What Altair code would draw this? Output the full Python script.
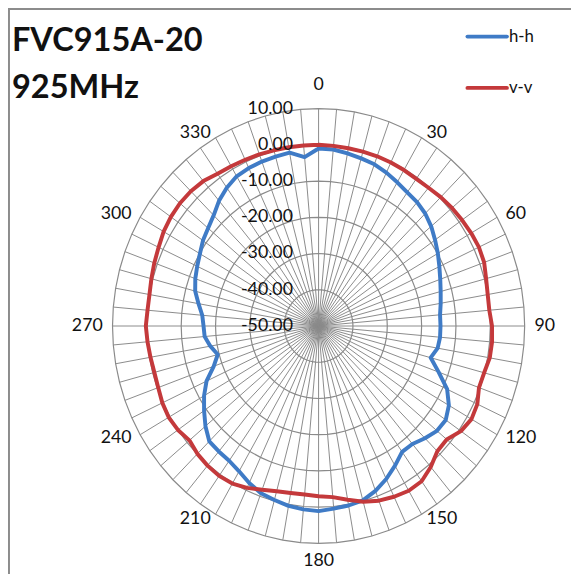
import math
import altair as alt
import pandas as pd

# ---------------- data ----------------
ANGLES = list(range(0, 360, 5))
HH = [-1.0, -1.1, -1.6, -2.1, -2.5, -3.3, -4.2, -5.0, -5.4, -6.1, -7.2, -8.6,
      -9.9, -11.2, -12.3, -13.2, -13.9, -14.5, -14.5, -14.5, -14.8, -16.2, -12.8, -8.7,
      -6.2, -4.8, -5.0, -6.2, -7.5, -7.6, -5.5, -3.4, -1.6, -0.2, 0.3, 0.6,
      1.1, 0.8, 0.4, -0.3, -0.9, -2.2, -3.7, -4.6, -4.8, -5.0, -7.0, -9.3,
      -11.5, -14.0, -17.5, -19.6, -18.0, -16.7, -16.5, -16.0, -14.5, -12.8, -11.8, -11.0,
      -10.1, -8.9, -8.0, -6.8, -4.9, -3.4, -2.3, -1.9, -1.7, -1.6, -1.4, -3.2]
VV = [0.0, -0.1, -0.2, -0.2, -0.15, -0.2, -0.3, -0.4, -0.2, 0.3, 0.7, 1.0,
      1.3, 1.5, 1.3, 0.5, 0.0, -0.1, 0.5, 0.7, 0.6, -0.1, -0.3, 1.0,
      1.4, 0.6, -1.3, -1.1, 0.8, 2.3, 2.5, 2.0, 1.3, 0.2, -1.3, -2.6,
      -3.0, -3.3, -3.2, -2.8, -1.9, -0.7, 0.2, 0.5, 0.3, -0.1, -0.9, 0.0,
      0.4, 0.2, -0.3, -0.5, -0.3, 0.0, 0.3, 0.0, 0.0, 0.4, 0.9, 1.4,
      2.1, 2.5, 2.7, 2.6, 2.2, 1.3, 0.9, 0.6, 0.4, 0.2, 0.1, 0.0]
SERIES = ["h-h", "v-v"]
COLORS = ["#3F7BC6", "#C4393B"]
RING_VALUES = [10, 0, -10, -20, -30, -40, -50]
RING_LABELS = ["10.00", "0.00", "-10.00", "-20.00", "-30.00", "-40.00", "-50.00"]
ANGLE_TICKS = [0, 30, 60, 90, 120, 150, 180, 210, 240, 270, 300, 330]
ANGLE_TICK_LABELS = ["0", "30", "60", "90", "120", "150", "180", "210", "240", "270", "300", "330"]
TITLE_LINES = ["FVC915A-20", "925MHz"]
R_MIN, R_MAX = -50, 10

# ---------------- layout ----------------
W, H = 418, 441
RX, RY = W / 2, H / 2
GAP_X, GAP_Y = 10, 6                 # label gaps in px
GAP_TOP, GAP_BOTTOM = 24, 18
CHAR_W = 10.4                        # approx. digit width at 18px

def norm(v):
    return (v - R_MIN) / (R_MAX - R_MIN)

def polar(r, deg):
    a = math.radians(deg)
    return r * math.sin(a), r * math.cos(a)

rows = []
for s, vals in zip(SERIES, [HH, VV]):
    for i, (a, v) in enumerate(list(zip(ANGLES, vals)) + [(ANGLES[0], vals[0])]):
        x, y = polar(norm(v), a)
        rows.append({"series": s, "idx": i, "x": x, "y": y})
series_df = pd.DataFrame(rows)

spokes = []
for a in ANGLES:
    x, y = polar(1.0, a)
    spokes.append({"x": 0.0, "y": 0.0, "x2": x, "y2": y})
spokes_df = pd.DataFrame(spokes)

rings = []
for v in RING_VALUES:
    r = norm(v)
    if r <= 0:
        continue
    for i, a in enumerate(ANGLES + [ANGLES[0]]):
        x, y = polar(r, a)
        rings.append({"ring": v, "idx": i, "x": x, "y": y})
rings_df = pd.DataFrame(rings)

rlab_df = pd.DataFrame({"x": [0.0] * len(RING_VALUES),
                        "y": [norm(v) for v in RING_VALUES],
                        "label": RING_LABELS})

alab = []
for a, t in zip(ANGLE_TICKS, ANGLE_TICK_LABELS):
    s, c = polar(1.0, a)
    if abs(s) > 0.01:
        sg = 1 if s > 0 else -1
        x = s * (1 + GAP_X / RX) + sg * (len(t) * CHAR_W / 2) / RX
        y = c * (1 + GAP_Y / RY)
    else:
        x = 0.0
        y = (1 + GAP_TOP / RY) if c > 0 else -(1 + GAP_BOTTOM / RY)
    alab.append({"x": x, "y": y, "label": t})
alab_df = pd.DataFrame(alab)

XS = alt.Scale(domain=[-1, 1], nice=False, zero=False)
YS = alt.Scale(domain=[-1, 1], nice=False, zero=False)
GRID = "#8A8A8A"
FONT = "Lato"
TXT = "#111111"

def X(f="x"):
    return alt.X(f + ":Q", scale=XS, axis=None)

def Y(f="y"):
    return alt.Y(f + ":Q", scale=YS, axis=None)

spoke_layer = alt.Chart(spokes_df).mark_rule(color=GRID, strokeWidth=1).encode(
    x=X(), y=Y(), x2="x2:Q", y2="y2:Q")

ring_layer = alt.Chart(rings_df).mark_line(color=GRID, strokeWidth=1.2).encode(
    x=X(), y=Y(), detail="ring:N", order="idx:Q")

line_layers = []
for s, c in zip(SERIES, COLORS):
    line_layers.append(
        alt.Chart(series_df[series_df.series == s]).mark_line(
            color=c, strokeWidth=4, strokeJoin="round", strokeCap="round").encode(
            x=X(), y=Y(), order="idx:Q"))

rlab_layer = alt.Chart(rlab_df).mark_text(
    align="right", baseline="middle", dx=-26, fontSize=18, font=FONT, color=TXT).encode(
    x=X(), y=Y(), text="label:N")

alab_layer = alt.Chart(alab_df).mark_text(
    align="center", baseline="middle", fontSize=18, font=FONT, color=TXT).encode(
    x=X(), y=Y(), text="label:N")

title1 = alt.Chart(pd.DataFrame({"t": [TITLE_LINES[0]]})).mark_text(
    align="left", baseline="alphabetic", fontSize=33, fontWeight="bold", font=FONT, color=TXT).encode(
    x=alt.value(-102), y=alt.value(-58), text="t:N")
title2 = alt.Chart(pd.DataFrame({"t": [TITLE_LINES[1]]})).mark_text(
    align="left", baseline="alphabetic", fontSize=33, fontWeight="bold", font=FONT, color=TXT).encode(
    x=alt.value(-102), y=alt.value(-11), text="t:N")

legend_layers = []
for s, c, yy in zip(SERIES, COLORS, [-73, -21]):
    d = pd.DataFrame({"t": [s]})
    legend_layers.append(alt.Chart(d).mark_rule(color=c, strokeWidth=4, strokeCap="round").encode(
        x=alt.value(360), x2=alt.value(400), y=alt.value(yy)))
    legend_layers.append(alt.Chart(d).mark_text(
        align="left", baseline="middle", fontSize=17, font=FONT, color=TXT).encode(
        x=alt.value(402), y=alt.value(yy), text="t:N"))

border = alt.Chart(pd.DataFrame({"a": [0]})).mark_rect(
    fill=None, stroke="#8C8C8C", strokeWidth=2).encode(
    x=alt.value(-105), x2=alt.value(480), y=alt.value(-101), y2=alt.value(500))

chart = alt.layer(
    border, spoke_layer, ring_layer, *line_layers, rlab_layer, alab_layer,
    title1, title2, *legend_layers
).properties(
    width=W, height=H,
    padding={"left": 106, "top": 98, "right": 47, "bottom": 27},
    autosize=alt.AutoSizeParams(type="none"),
).configure_view(stroke=None)

chart.save("out.html", embed_options={"renderer": "svg", "actions": False})
